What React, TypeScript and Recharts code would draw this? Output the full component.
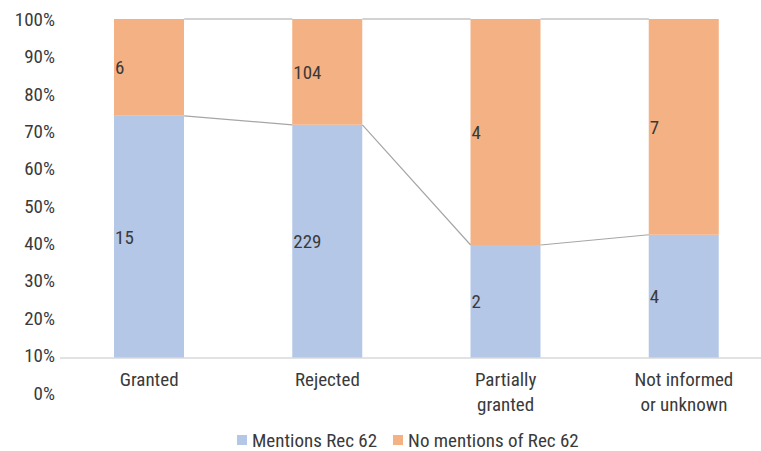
import { ComposedChart, Bar, Line, XAxis, YAxis, LabelList, Legend } from "recharts";

const categories = ["Granted", "Rejected", "Partially\ngranted", "Not informed\nor unknown"];
const mentions = [15, 229, 2, 4];
const noMentions = [6, 104, 4, 7];
const percentTicks = [0, 10, 20, 30, 40, 50, 60, 70, 80, 90, 100];

const FONT = "'Noto Sans Condensed', 'Roboto Condensed', 'Liberation Sans Narrow', Roboto, sans-serif";
const FONT_SIZE = 19;
const TEXT = "#3A3A3A";
const BLUE = "#B4C7E7";
const ORANGE = "#F4B183";
const SERIES_LINE = "#A6A6A6";

const CHART_W = 773;
const CHART_H = 451;
const AXIS_W = 60;
const BAR_SIZE = 70;
const BAND = (CHART_W - AXIS_W) / categories.length;
const HALF_BAR = BAR_SIZE / 2 / BAND;
// the percent labels run a little past the plot floor, down to 0% under the axis
const LABEL_AXIS_MIN = 9.33;

// each bar is stacked to 100%: heights are shares, labels are the raw counts
const rows = categories.map((name, i) => {
  const total = mentions[i] + noMentions[i];
  return {
    name,
    mentions: mentions[i],
    noMentions: noMentions[i],
    mentionsShare: mentions[i] / total,
    noMentionsShare: noMentions[i] / total,
  };
});

// series lines go from the right edge of one bar to the left edge of the next,
// with a null point to break the line over each bar
function seriesLine(share: (i: number) => number) {
  const pts: { x: number; y: number | null }[] = [];
  for (let i = 0; i < categories.length - 1; i++) {
    pts.push({ x: i + 0.5 + HALF_BAR, y: share(i) });
    pts.push({ x: i + 1.5 - HALF_BAR, y: share(i + 1) });
    if (i < categories.length - 2) pts.push({ x: i + 1.5, y: null });
  }
  return pts;
}

const boundaryLine = seriesLine((i) => rows[i].mentionsShare);
const topLine = seriesLine((i) => rows[i].mentionsShare + rows[i].noMentionsShare);

function CategoryTick({ x, y, payload }: any) {
  const lines = String(payload.value).split("\n");
  return (
    <text x={x} y={y} textAnchor="middle" fill={TEXT} fontSize={FONT_SIZE} fontFamily={FONT}>
      {lines.map((line, i) => (
        <tspan key={i} x={x} dy={i === 0 ? 28 : 25}>
          {line}
        </tspan>
      ))}
    </text>
  );
}

const legendItems = [
  { label: "Mentions Rec 62", color: BLUE },
  { label: "No mentions of Rec 62", color: ORANGE },
];

function ChartLegend() {
  return (
    <div
      style={{
        display: "flex",
        alignItems: "center",
        height: 22,
        paddingLeft: 237,
        fontFamily: FONT,
        fontSize: FONT_SIZE,
        color: TEXT,
      }}
    >
      {legendItems.map((item) => (
        <div key={item.label} style={{ display: "flex", alignItems: "center", marginRight: 16 }}>
          <span style={{ width: 10, height: 10, background: item.color, marginRight: 5 }} />
          <span>{item.label}</span>
        </div>
      ))}
    </div>
  );
}

export default function App() {
  return (
    <div
      style={{
        position: "absolute",
        left: 0,
        top: 0,
        width: 761,
        height: 451,
        overflow: "hidden",
        background: "#fff",
      }}
    >
      <ComposedChart
        width={CHART_W}
        height={CHART_H}
        data={rows}
        margin={{ top: 19, right: 0, bottom: 0, left: 0 }}
      >
        <XAxis
          dataKey="name"
          xAxisId="cat"
          height={71}
          tickLine={false}
          tickSize={0}
          tickMargin={0}
          interval={0}
          axisLine={{ stroke: "#D9D9D9", strokeWidth: 1.5 }}
          tick={<CategoryTick />}
        />
        <XAxis xAxisId="edge" type="number" dataKey="x" domain={[0, categories.length]} hide />
        <YAxis
          yAxisId="pct"
          type="number"
          width={AXIS_W}
          domain={[LABEL_AXIS_MIN, 100]}
          ticks={percentTicks}
          interval={0}
          allowDataOverflow
          axisLine={false}
          tickLine={false}
          tickSize={0}
          tickMargin={5}
          tickFormatter={(v: number) => `${v}%`}
          tick={{ fill: TEXT, fontSize: FONT_SIZE, fontFamily: FONT }}
        />
        <YAxis yAxisId="share" type="number" domain={[0, 1]} hide />

        <Bar
          dataKey="mentionsShare"
          name="Mentions Rec 62"
          stackId="a"
          xAxisId="cat"
          yAxisId="share"
          fill={BLUE}
          barSize={BAR_SIZE}
          isAnimationActive={false}
        >
          <LabelList
            dataKey="mentions"
            position="insideLeft"
            offset={1}
            fill={TEXT}
            fontSize={FONT_SIZE}
            fontFamily={FONT}
          />
        </Bar>
        <Bar
          dataKey="noMentionsShare"
          name="No mentions of Rec 62"
          stackId="a"
          xAxisId="cat"
          yAxisId="share"
          fill={ORANGE}
          barSize={BAR_SIZE}
          isAnimationActive={false}
        >
          <LabelList
            dataKey="noMentions"
            position="insideLeft"
            offset={1}
            fill={TEXT}
            fontSize={FONT_SIZE}
            fontFamily={FONT}
          />
        </Bar>

        <Line
          data={boundaryLine}
          dataKey="y"
          xAxisId="edge"
          yAxisId="share"
          type="linear"
          stroke={SERIES_LINE}
          strokeWidth={1.2}
          dot={false}
          activeDot={false}
          connectNulls={false}
          legendType="none"
          isAnimationActive={false}
        />
        <Line
          data={topLine}
          dataKey="y"
          xAxisId="edge"
          yAxisId="share"
          type="linear"
          stroke={SERIES_LINE}
          strokeWidth={1.2}
          dot={false}
          activeDot={false}
          connectNulls={false}
          legendType="none"
          isAnimationActive={false}
        />

        <Legend verticalAlign="bottom" height={22} content={<ChartLegend />} />
      </ComposedChart>
    </div>
  );
}
